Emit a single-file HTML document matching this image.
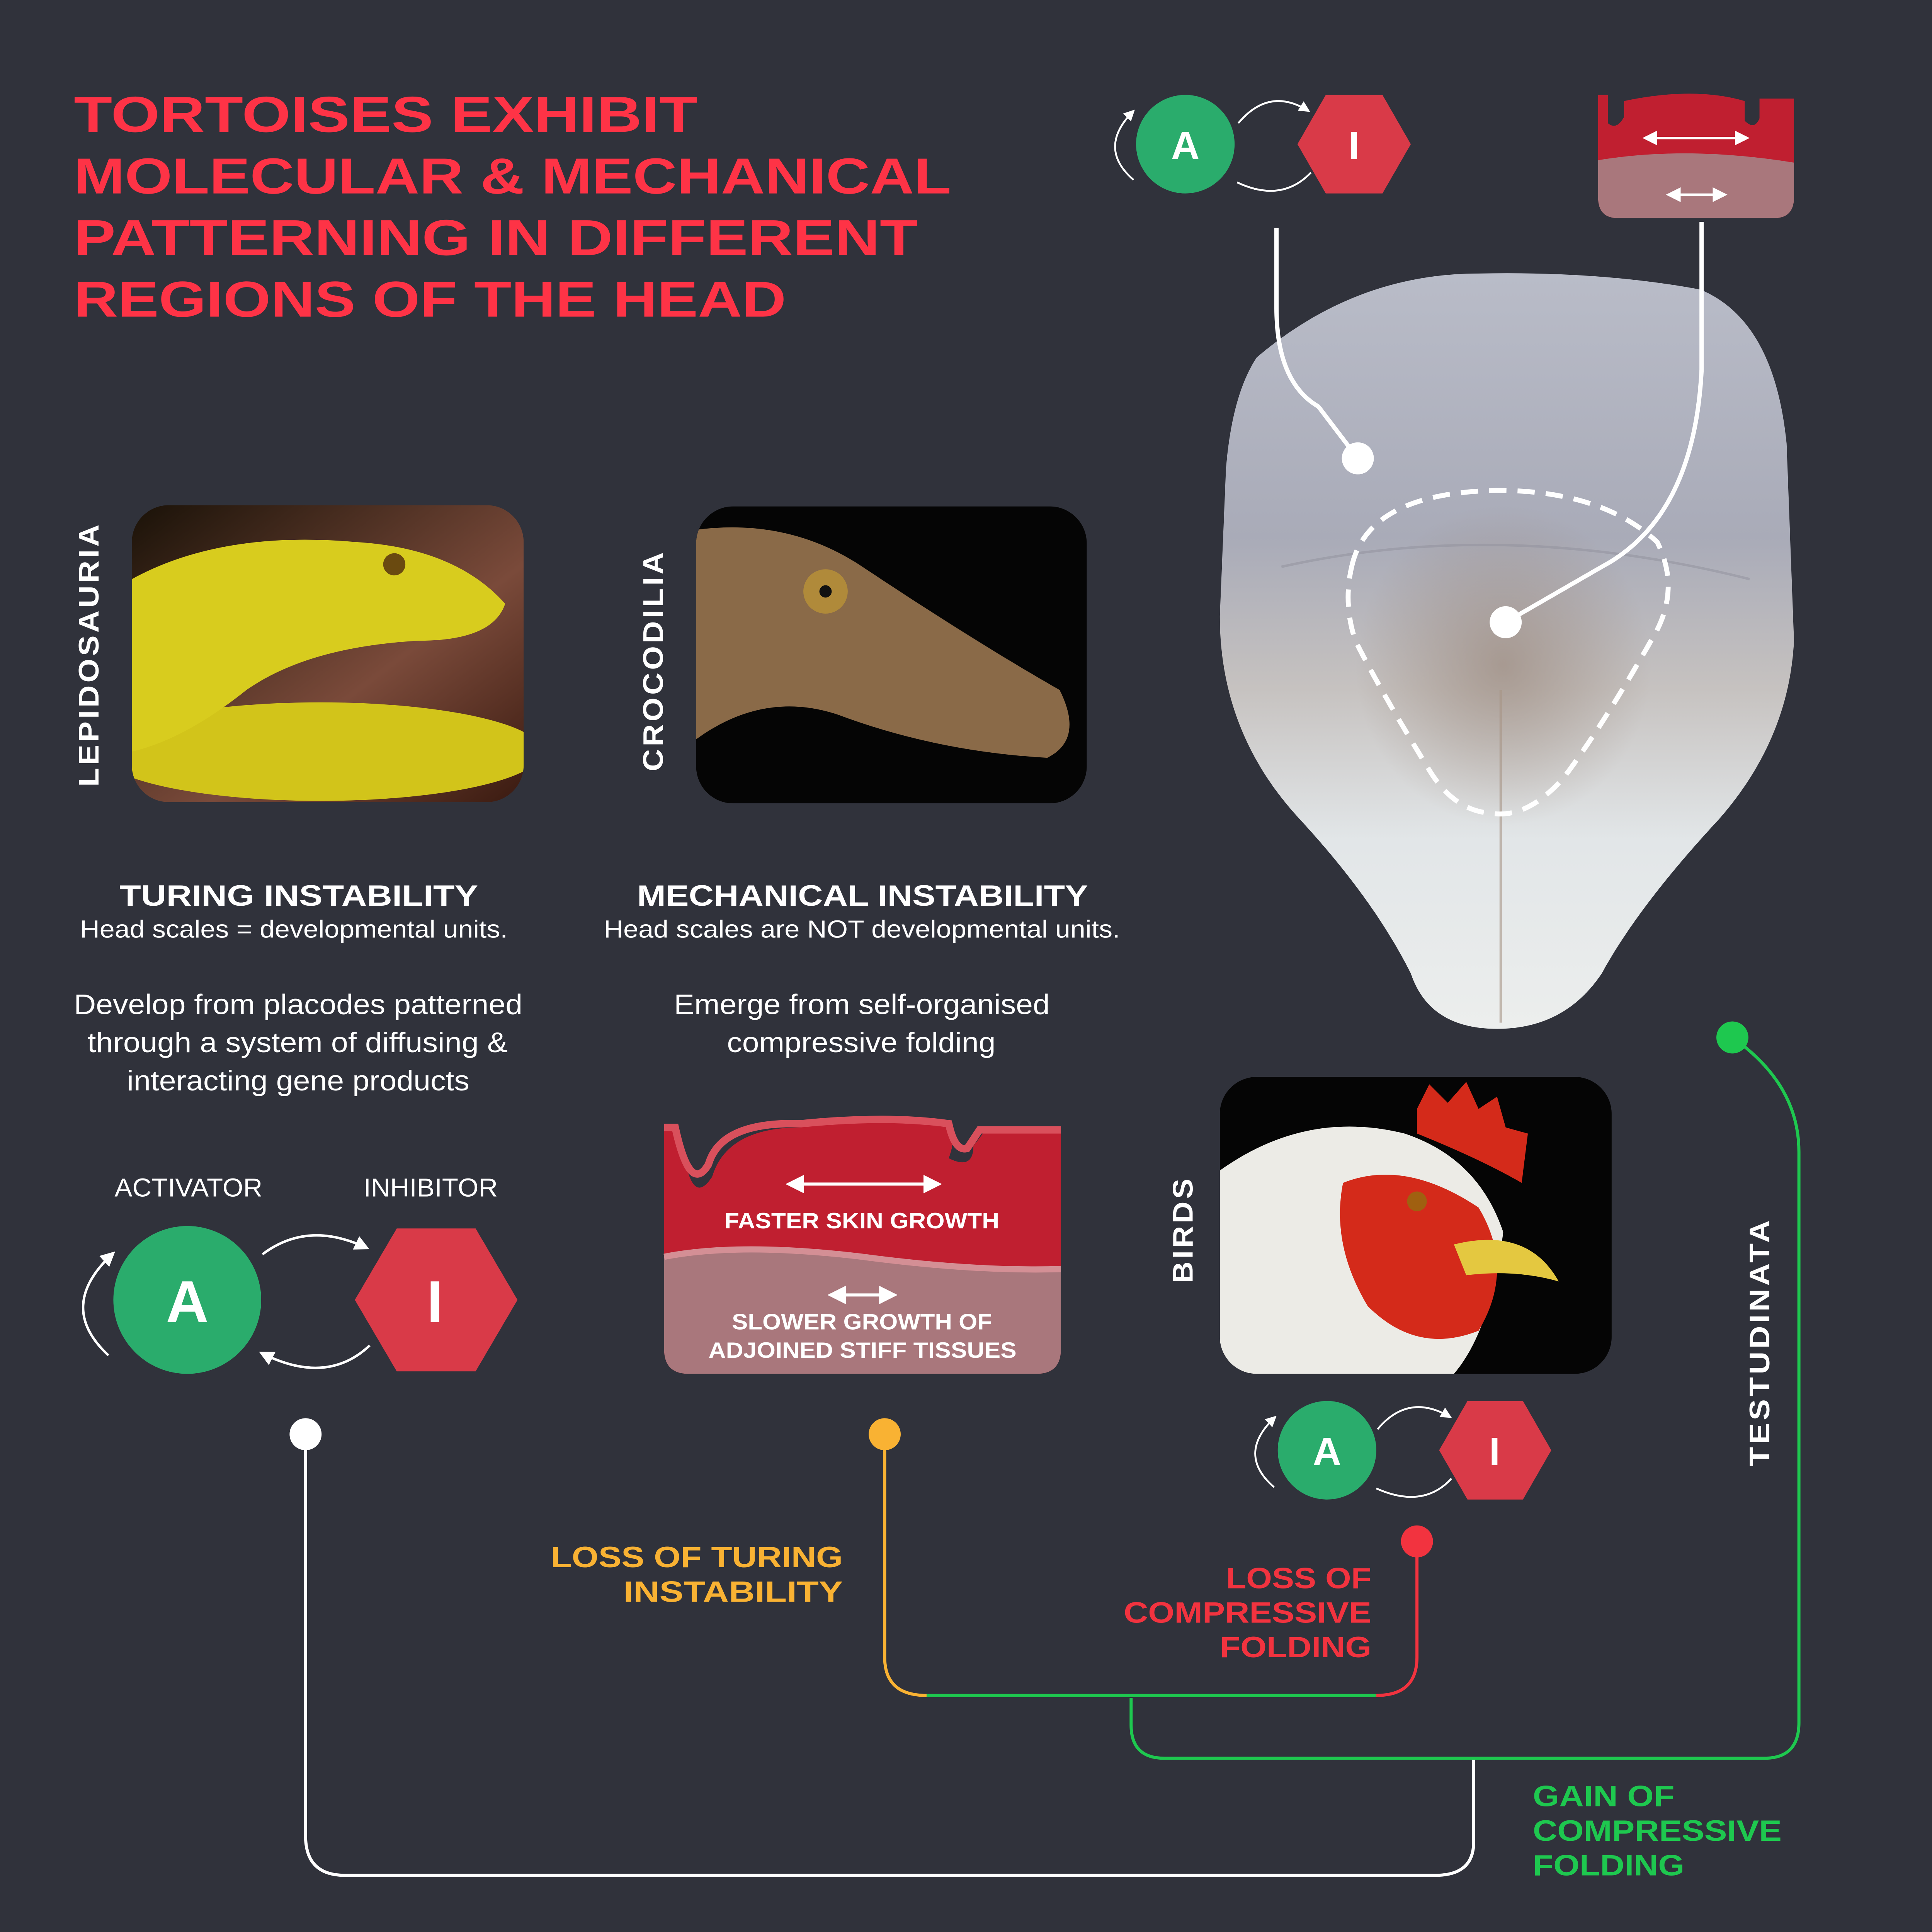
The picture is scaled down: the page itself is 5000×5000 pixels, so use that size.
<!DOCTYPE html>
<html><head><meta charset="utf-8"><style>
html,body{margin:0;padding:0;background:#30323b;}
svg{display:block;}
text{font-family:"Liberation Sans",sans-serif;}
</style></head><body>
<svg width="5000" height="5000" viewBox="0 0 1568 1568" xmlns="http://www.w3.org/2000/svg">
<defs>
<linearGradient id="tort" x1="0" y1="0" x2="0" y2="1">
<stop offset="0" stop-color="#b9bcc8"/><stop offset="0.35" stop-color="#a9abb8"/>
<stop offset="0.55" stop-color="#c6c2c0"/><stop offset="0.75" stop-color="#e2e6e8"/><stop offset="1" stop-color="#eceeed"/>
</linearGradient>
<radialGradient id="brown" cx="0.5" cy="0.5" r="0.5"><stop offset="0" stop-color="#9c8a7e" stop-opacity="0.7"/><stop offset="1" stop-color="#9c8a7e" stop-opacity="0"/></radialGradient>
<linearGradient id="snakebg" x1="0" y1="0" x2="1" y2="1"><stop offset="0" stop-color="#1a1208"/><stop offset="0.6" stop-color="#7a4a3a"/><stop offset="1" stop-color="#3a1a10"/></linearGradient>
<marker id="ah" markerWidth="6" markerHeight="6" refX="5" refY="3" orient="auto-start-reverse"><path d="M0,0 L6,3 L0,6z" fill="#fff"/></marker>
<clipPath id="c1"><rect x="107" y="410" width="318" height="241" rx="30"/></clipPath>
<clipPath id="c2"><rect x="565" y="411" width="317" height="241" rx="30"/></clipPath>
<clipPath id="c3"><rect x="990" y="874" width="318" height="241" rx="30"/></clipPath>
</defs>
<rect width="1568" height="1568" fill="#30323b"/>

<!-- title -->
<g fill="#fe3346" font-weight="bold" font-size="41">
<text x="60" y="107" textLength="506" lengthAdjust="spacingAndGlyphs">TORTOISES EXHIBIT</text>
<text x="60" y="157" textLength="712" lengthAdjust="spacingAndGlyphs">MOLECULAR &amp; MECHANICAL</text>
<text x="60" y="207" textLength="685" lengthAdjust="spacingAndGlyphs">PATTERNING IN DIFFERENT</text>
<text x="60" y="257" textLength="578" lengthAdjust="spacingAndGlyphs">REGIONS OF THE HEAD</text>
</g>

<!-- tortoise head -->
<path d="M1020,290 Q1100,222 1200,222 Q1300,220 1380,235 Q1440,260 1450,360 L1456,520 Q1452,600 1395,665 Q1330,735 1300,790 Q1270,835 1215,835 Q1160,835 1145,790 Q1115,730 1055,665 Q990,595 990,500 L995,380 Q1000,320 1020,290Z" fill="url(#tort)"/>
<ellipse cx="1220" cy="540" rx="120" ry="130" fill="url(#brown)"/>
<path d="M1040,460 Q1220,420 1420,470" stroke="#8f909c" stroke-width="2" fill="none" opacity="0.5"/>
<path d="M1218,560 L1218,830" stroke="#a69585" stroke-width="2" fill="none" opacity="0.6"/>
<path d="M1036,185 L1036,250 Q1036,310 1070,330 L1102,372" stroke="#fff" stroke-width="3.5" fill="none"/>
<circle cx="1102" cy="372" r="13" fill="#fff"/>
<path d="M1381,180 L1381,300 Q1375,420 1300,460 L1222,505" stroke="#fff" stroke-width="3.5" fill="none"/>
<circle cx="1222" cy="505" r="13" fill="#fff"/>
<path d="M1097,460 Q1110,400 1215,398 Q1300,398 1345,440 Q1365,480 1340,520 Q1300,590 1270,630 Q1240,665 1210,660 Q1180,658 1160,625 Q1120,560 1100,520 Q1090,490 1097,460Z" stroke="#fff" stroke-width="4" stroke-dasharray="14,9" fill="none"/>

<!-- top mini A/I -->
<circle cx="962" cy="117" r="40" fill="#2aac6c"/>
<text x="962" y="129" fill="#fff" font-size="32" font-weight="bold" text-anchor="middle">A</text>
<polygon points="1053,117 1076,77 1122,77 1145,117 1122,157 1076,157" fill="#d93a48"/>
<text x="1099" y="129" fill="#fff" font-size="32" font-weight="bold" text-anchor="middle">I</text>
<path d="M1005,100 Q1030,70 1062,90" stroke="#fff" stroke-width="1.5" fill="none" marker-end="url(#ah)"/>
<path d="M1064,140 Q1040,165 1004,148" stroke="#fff" stroke-width="1.5" fill="none"/>
<path d="M920,146 Q890,120 920,90" stroke="#fff" stroke-width="1.5" fill="none" marker-end="url(#ah)"/>

<!-- top mini mech box -->
<path d="M1297,77 L1305,77 L1305,100 Q1312,106 1318,95 L1318,82 Q1375,70 1416,82 L1416,98 Q1424,106 1428,96 L1428,80 L1456,80 L1456,160 Q1456,177 1440,177 L1313,177 Q1297,177 1297,160Z" fill="#c01f30"/>
<path d="M1297,130 Q1370,118 1456,132 L1456,160 Q1456,177 1440,177 L1313,177 Q1297,177 1297,160Z" fill="#a9777c"/>
<path d="M1335,112 L1418,112" stroke="#fff" stroke-width="2" marker-end="url(#ah)" marker-start="url(#ah)"/>
<path d="M1354,158 L1400,158" stroke="#fff" stroke-width="2" marker-end="url(#ah)" marker-start="url(#ah)"/>

<!-- snake photo -->
<g clip-path="url(#c1)">
<rect x="107" y="410" width="318" height="241" fill="url(#snakebg)"/>
<ellipse cx="260" cy="610" rx="180" ry="40" fill="#d2c41a"/>
<path d="M107,470 Q180,430 290,440 Q370,445 410,490 Q400,520 340,520 Q250,525 200,560 Q150,600 107,610Z" fill="#d8cc1e"/>
<circle cx="320" cy="458" r="9" fill="#6a4a10"/>
</g>
<!-- croc photo -->
<g clip-path="url(#c2)">
<rect x="565" y="411" width="317" height="241" fill="#050505"/>
<path d="M565,430 Q640,420 700,460 Q790,520 860,560 Q880,600 850,615 Q760,610 680,580 Q620,560 565,600Z" fill="#8a6a48"/>
<circle cx="670" cy="480" r="18" fill="#b08a3a"/>
<circle cx="670" cy="480" r="5" fill="#111"/>
</g>
<!-- bird photo -->
<g clip-path="url(#c3)">
<rect x="990" y="874" width="318" height="241" fill="#050505"/>
<path d="M990,950 Q1060,900 1140,920 Q1200,940 1220,1000 Q1210,1080 1180,1115 L990,1115Z" fill="#ecebe6"/>
<path d="M1150,900 L1160,880 L1175,895 L1190,878 L1200,900 L1215,890 L1222,915 L1240,920 L1235,960 Q1200,940 1150,920Z" fill="#d42a1a"/>
<path d="M1090,960 Q1140,940 1200,980 Q1230,1030 1200,1080 Q1150,1100 1110,1060 Q1080,1010 1090,960Z" fill="#d42a1a"/>
<path d="M1180,1010 Q1240,995 1265,1040 Q1230,1030 1190,1035Z" fill="#e4c840"/>
<circle cx="1150" cy="975" r="8" fill="#a06010"/>
</g>

<!-- vertical labels -->
<g fill="#fff" font-weight="bold" font-size="23" letter-spacing="2">
<text transform="translate(80,531) rotate(-90)" text-anchor="middle" textLength="215" lengthAdjust="spacingAndGlyphs">LEPIDOSAURIA</text>
<text transform="translate(538,536) rotate(-90)" text-anchor="middle" textLength="180" lengthAdjust="spacingAndGlyphs">CROCODILIA</text>
<text transform="translate(968,998) rotate(-90)" text-anchor="middle" textLength="87" lengthAdjust="spacingAndGlyphs">BIRDS</text>
<text transform="translate(1436,1089) rotate(-90)" text-anchor="middle" textLength="202" lengthAdjust="spacingAndGlyphs">TESTUDINATA</text>
</g>

<!-- headings -->
<g fill="#fff">
<text x="97" y="735" font-size="24" font-weight="bold" textLength="291" lengthAdjust="spacingAndGlyphs">TURING INSTABILITY</text>
<text x="65" y="761" font-size="20" textLength="347" lengthAdjust="spacingAndGlyphs">Head scales = developmental units.</text>
<text x="60" y="823" font-size="23" textLength="364" lengthAdjust="spacingAndGlyphs">Develop from placodes patterned</text>
<text x="71" y="854" font-size="23" textLength="341" lengthAdjust="spacingAndGlyphs">through a system of diffusing &amp;</text>
<text x="103" y="885" font-size="23" textLength="278" lengthAdjust="spacingAndGlyphs">interacting gene products</text>
<text x="517" y="735" font-size="24" font-weight="bold" textLength="366" lengthAdjust="spacingAndGlyphs">MECHANICAL INSTABILITY</text>
<text x="490" y="761" font-size="20" textLength="419" lengthAdjust="spacingAndGlyphs">Head scales are NOT developmental units.</text>
<text x="547" y="823" font-size="23" textLength="305" lengthAdjust="spacingAndGlyphs">Emerge from self-organised</text>
<text x="590" y="854" font-size="23" textLength="218" lengthAdjust="spacingAndGlyphs">compressive folding</text>
<text x="93" y="971" font-size="21" textLength="120" lengthAdjust="spacingAndGlyphs">ACTIVATOR</text>
<text x="295" y="971" font-size="21" textLength="109" lengthAdjust="spacingAndGlyphs">INHIBITOR</text>
</g>

<!-- big A/I -->
<circle cx="152" cy="1055" r="60" fill="#2aac6c"/>
<text x="152" y="1073" fill="#fff" font-size="48" font-weight="bold" text-anchor="middle">A</text>
<polygon points="288,1055 322,997 386,997 420,1055 386,1113 322,1113" fill="#d93a48"/>
<text x="353" y="1073" fill="#fff" font-size="48" font-weight="bold" text-anchor="middle">I</text>
<path d="M213,1018 Q250,990 298,1013" stroke="#fff" stroke-width="2" fill="none" marker-end="url(#ah)"/>
<path d="M300,1092 Q265,1125 212,1098" stroke="#fff" stroke-width="2" fill="none" marker-end="url(#ah)"/>
<path d="M88,1100 Q45,1060 92,1017" stroke="#fff" stroke-width="2" fill="none" marker-end="url(#ah)"/>

<!-- big mech box -->
<path d="M539,915 L548,915 L558,950 Q565,975 578,955 Q590,915 650,915 Q700,905 760,910 Q780,913 770,940 Q790,950 790,930 L800,917 L861,917 L861,1095 Q861,1115 841,1115 L559,1115 Q539,1115 539,1095Z" fill="#c01f30"/>
<path d="M539,915 L548,915 Q560,970 575,945 Q585,910 650,912 Q720,905 770,912 Q775,935 785,932 L795,917 L861,917" stroke="#d9505c" stroke-width="6" fill="none"/>
<path d="M539,1020 Q600,1008 700,1020 Q790,1032 861,1030 L861,1095 Q861,1115 841,1115 L559,1115 Q539,1115 539,1095Z" fill="#a9777c"/>
<path d="M539,1020 Q600,1008 700,1020 Q790,1032 861,1030" stroke="#d48f95" stroke-width="5" fill="none"/>
<path d="M640,961 L762,961" stroke="#fff" stroke-width="2.5" marker-end="url(#ah)" marker-start="url(#ah)"/>
<path d="M674,1051 L726,1051" stroke="#fff" stroke-width="2.5" marker-end="url(#ah)" marker-start="url(#ah)"/>
<g fill="#fff" font-weight="bold" font-size="18">
<text x="588" y="997" textLength="223" lengthAdjust="spacingAndGlyphs">FASTER SKIN GROWTH</text>
<text x="594" y="1079" textLength="211" lengthAdjust="spacingAndGlyphs">SLOWER GROWTH OF</text>
<text x="575" y="1102" textLength="250" lengthAdjust="spacingAndGlyphs">ADJOINED STIFF TISSUES</text>
</g>

<!-- bird mini A/I -->
<circle cx="1077" cy="1177" r="40" fill="#2aac6c"/>
<text x="1077" y="1189" fill="#fff" font-size="32" font-weight="bold" text-anchor="middle">A</text>
<polygon points="1168,1177 1191,1137 1236,1137 1259,1177 1236,1217 1191,1217" fill="#d93a48"/>
<text x="1213" y="1189" fill="#fff" font-size="32" font-weight="bold" text-anchor="middle">I</text>
<path d="M1118,1160 Q1143,1130 1177,1150" stroke="#fff" stroke-width="1.5" fill="none" marker-end="url(#ah)"/>
<path d="M1178,1200 Q1155,1225 1117,1208" stroke="#fff" stroke-width="1.5" fill="none"/>
<path d="M1034,1207 Q1003,1180 1035,1150" stroke="#fff" stroke-width="1.5" fill="none" marker-end="url(#ah)"/>

<!-- connectors -->
<path d="M1196,1428 L1196,1495 Q1196,1522 1165,1522 L280,1522 Q248,1522 248,1490 L248,1164" stroke="#fff" stroke-width="2.5" fill="none"/>
<path d="M918,1378 L918,1400 Q918,1427 945,1427 L1432,1427 Q1460,1427 1460,1398 L1460,935 Q1460,880 1406,842" stroke="#1ec84f" stroke-width="2.5" fill="none"/>
<path d="M752,1376 L1117,1376" stroke="#1ec84f" stroke-width="2.5" fill="none"/>
<path d="M718,1164 L718,1345 Q718,1376 752,1376" stroke="#f9b233" stroke-width="2.5" fill="none"/>
<path d="M1150,1251 L1150,1345 Q1150,1376 1117,1376" stroke="#f2333f" stroke-width="2.5" fill="none"/>
<circle cx="248" cy="1164" r="13" fill="#fff"/>
<circle cx="718" cy="1164" r="13" fill="#f9b233"/>
<circle cx="1150" cy="1251" r="13" fill="#f2333f"/>
<circle cx="1406" cy="842" r="13" fill="#1ec84f"/>

<g font-weight="bold" font-size="24">
<g fill="#f9b233"><text x="447" y="1272" textLength="237" lengthAdjust="spacingAndGlyphs">LOSS OF TURING</text><text x="506" y="1300" textLength="178" lengthAdjust="spacingAndGlyphs">INSTABILITY</text></g>
<g fill="#f2333f"><text x="995" y="1289" textLength="118" lengthAdjust="spacingAndGlyphs">LOSS OF</text><text x="912" y="1317" textLength="201" lengthAdjust="spacingAndGlyphs">COMPRESSIVE</text><text x="990" y="1345" textLength="123" lengthAdjust="spacingAndGlyphs">FOLDING</text></g>
<g fill="#1ec84f"><text x="1244" y="1466" textLength="115" lengthAdjust="spacingAndGlyphs">GAIN OF</text><text x="1244" y="1494" textLength="202" lengthAdjust="spacingAndGlyphs">COMPRESSIVE</text><text x="1244" y="1522" textLength="123" lengthAdjust="spacingAndGlyphs">FOLDING</text></g>
</g>
</svg>
</body></html>
